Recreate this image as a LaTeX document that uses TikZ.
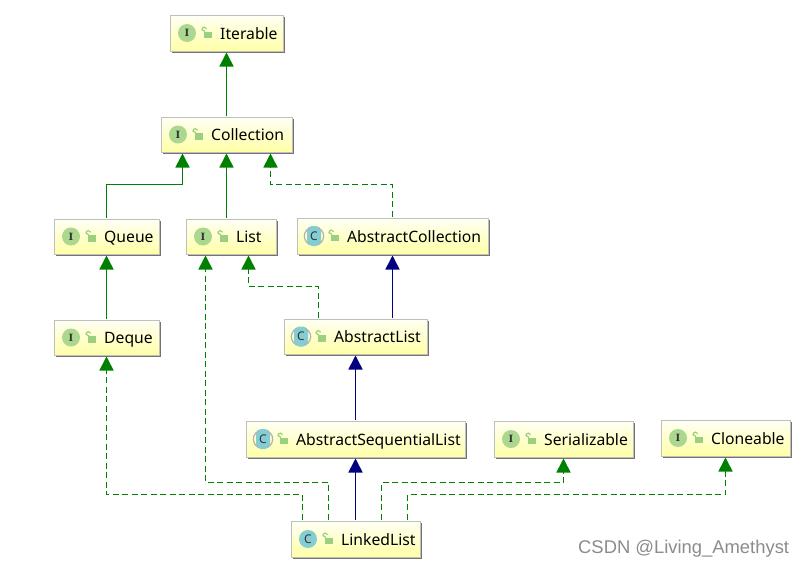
\documentclass[tikz,border=0pt]{standalone}
\usepackage{fontspec}
\setmainfont{Noto Sans}
\newfontfamily\markfont{Liberation Sans}
\newfontfamily\iconfont{DejaVu Serif}
\usetikzlibrary{arrows.meta,shadows}
\definecolor{extgreen}{HTML}{008000}
\definecolor{inhblue}{HTML}{000080}
\definecolor{igreen}{HTML}{ABD78F}
\definecolor{ccyan}{HTML}{84CDD3}
\definecolor{lockgreen}{HTML}{9BD07E}
\tikzset{
	umlbox/.style={anchor=north west,xshift=-1.5pt,yshift=1.5pt,rectangle,draw=black!25,line width=1pt,top color=yellow!4,bottom color=yellow!35,
		general shadow={shadow xshift=1.8pt,shadow yshift=-1.8pt,fill=black!55},outer sep=1.5pt,inner sep=0pt},
	umltext/.style={anchor=west,inner sep=0pt,text=black,text height=13pt,text depth=1pt,font=\fontsize{15.7}{18}\selectfont},
	iicon/.style={circle,fill=igreen,minimum size=18pt,inner sep=0pt,text=black!80,font=\iconfont\bfseries\fontsize{10}{10}\selectfont},
	cicon/.style={circle,fill=ccyan,minimum size=18pt,inner sep=0pt,text=black!80,font=\bfseries\fontsize{12}{12}\selectfont},
	aicon/.style={rectangle,rounded corners=5pt,fill=ccyan,minimum width=14pt,minimum height=20pt,inner sep=0pt,text=black!80,font=\bfseries\fontsize{12}{12}\selectfont},
	lockicon/.style={rectangle,fill=lockgreen,minimum width=8pt,minimum height=6.5pt,inner sep=0pt},
	extline/.style={extgreen,line width=1.6pt,-{Triangle[width=14pt,length=14pt]}},
	implline/.style={extline,dash pattern=on 6pt off 3.5pt},
	inhline/.style={inhblue,line width=1.6pt,-{Triangle[width=14pt,length=14pt]}},
}
% box, icon, padlock and title of one class
\newcommand{\umlclass}[7]{
	\node[umlbox,minimum width=#3,minimum height=#4] (#1) at (#2) {};
	\node[#5] (#1-icon) at ([xshift=18.5pt]#1.west) {#6};
	\node[lockicon] (#1-lock) at ([xshift=39.5pt,yshift=-2pt]#1.west) {};
	\draw[lockgreen,line width=1.2pt] ([xshift=-3pt]#1-lock.north) -- ++(-3,-2) arc (180:20:2.4pt);
	\node[umltext] (#1-text) at ([xshift=51.5pt]#1.west) {#7};
}
\begin{document}
\begin{tikzpicture}[x=1pt,y=-1pt]
\useasboundingbox[fill=white] (0,0) rectangle (804,568);

\umlclass{iterable}{170,15}{113pt}{36pt}{iicon}{I}{Iterable}
\umlclass{collection}{161,117}{131pt}{35pt}{iicon}{I}{Collection}
\umlclass{queue}{54,219}{105pt}{35pt}{iicon}{I}{Queue}
\umlclass{list}{186,219}{90pt}{35pt}{iicon}{I}{List}
\umlclass{abstractcollection}{297,218}{191pt}{36pt}{aicon}{C}{AbstractCollection}
\umlclass{deque}{54,320}{105pt}{35pt}{iicon}{I}{Deque}
\umlclass{abstractlist}{284,319}{143pt}{35pt}{aicon}{C}{AbstractList}
\umlclass{abstractsequentiallist}{246,421}{219pt}{36pt}{aicon}{C}{AbstractSequentialList}
\umlclass{serializable}{494,421}{139pt}{36pt}{iicon}{I}{Serializable}
\umlclass{cloneable}{661,420}{129pt}{36pt}{iicon}{I}{Cloneable}
\umlclass{linkedlist}{291,521}{129pt}{36pt}{cicon}{C}{LinkedList}

% brackets round the abstract icons
\foreach \n in {abstractcollection,abstractlist,abstractsequentiallist}
{
	\draw[black!30,line width=1.2pt] ([xshift=-4.5pt,yshift=8pt]\n-icon.center) arc (115:245:9pt);
	\draw[black!30,line width=1.2pt] ([xshift=4.5pt,yshift=8pt]\n-icon.center) arc (65:-65:9pt);
}

\coordinate (queuebend) at (182.5,184.5);
\coordinate (acbend) at (270.5,184.5);
\coordinate (alistbend) at (248.5,286.5);
\coordinate (bus-inner) at (0,482.5);
\coordinate (bus-outer) at (0,494.5);

\path[extline]
(collection.north) edge (iterable.south)
(deque.north) edge (queue.south)
(list.north -| collection.south) edge (collection.south);
\draw[extline] (queue.north) |- (queuebend) -- ([xshift=-44pt]collection.south);
\draw[implline] (abstractcollection.north) |- (acbend) -- ([xshift=44pt]collection.south);
\draw[implline] ([xshift=-37pt]abstractlist.north) |- (alistbend) -- ([xshift=17.5pt]list.south);

\path[inhline]
(abstractlist.north -| abstractcollection.south) edge (abstractcollection.south)
(abstractsequentiallist.north) edge (abstractlist.south)
(linkedlist.north -| abstractsequentiallist.south) edge (abstractsequentiallist.south);

\draw[implline] ([xshift=-53pt]linkedlist.north) |- (bus-outer -| deque.south) -- (deque.south);
\draw[implline] ([xshift=-27pt]linkedlist.north) |- ([xshift=-25.5pt]bus-inner -| list.south) -- ([xshift=-25.5pt]list.south);
\draw[implline] ([xshift=26pt]linkedlist.north) |- (bus-inner -| serializable.south) -- (serializable.south);
\draw[implline] ([xshift=52pt]linkedlist.north) |- (bus-outer -| cloneable.south) -- (cloneable.south);

\node[anchor=west,inner sep=0pt,text=black!45,font=\markfont\fontsize{18.4}{20}\selectfont] (watermark) at (578,549) {CSDN @Living\_Amethyst};
\end{tikzpicture}
\end{document}
